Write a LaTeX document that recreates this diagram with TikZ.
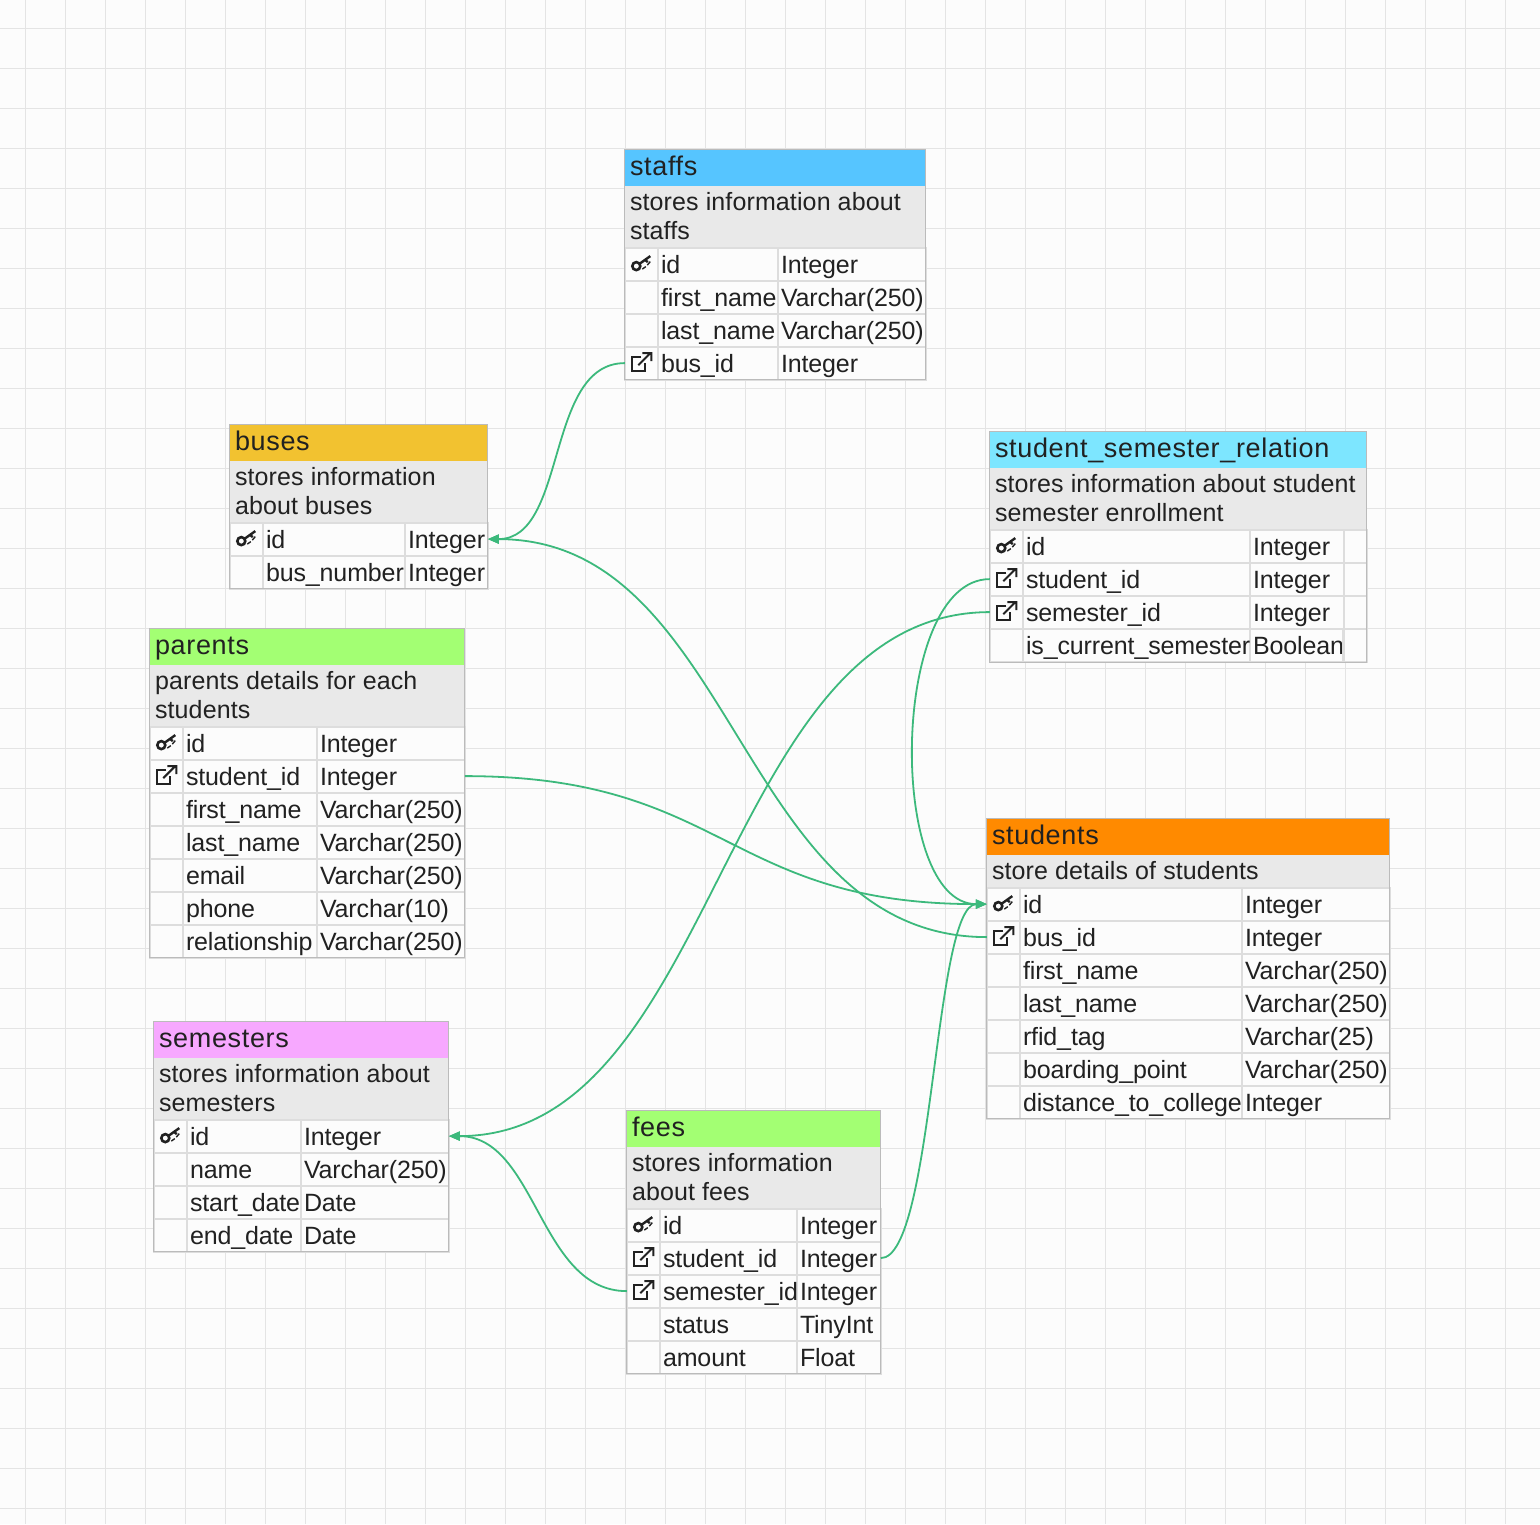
\documentclass[tikz,border=0pt]{standalone}
\usepackage{fontspec}
\setmainfont{Liberation Sans}
\newfontfamily\titlefam[LetterSpace=2.5]{Liberation Sans}
\newfontfamily\descfam[LetterSpace=0.5]{Liberation Sans}
\newfontfamily\cellfam[LetterSpace=-0.5]{Liberation Sans}
\usetikzlibrary{arrows.meta}
\definecolor{bgc}{HTML}{FCFCFC}
\definecolor{gridc}{HTML}{E4E4E4}
\definecolor{descc}{HTML}{E9E9E9}
\definecolor{linec}{HTML}{DDDDDD}
\definecolor{edgec}{HTML}{BBBBBB}
\definecolor{inkc}{HTML}{212121}
\definecolor{wirec}{HTML}{3CB97C}
\definecolor{cstaffs}{HTML}{56C5FF}
\definecolor{cbuses}{HTML}{F2C230}
\definecolor{cgreen}{HTML}{A3FF73}
\definecolor{csem}{HTML}{F7A8FF}
\definecolor{cstud}{HTML}{FF8A00}
\definecolor{cssr}{HTML}{7DE6FF}
\tikzset{
  titlefont/.style={font=\titlefam\fontsize{27}{27}\selectfont,text=inkc,inner sep=0pt,anchor=base west},
  desctext/.style={font=\descfam\fontsize{25}{25}\selectfont,text=inkc,inner sep=0pt,anchor=base west},
  celltext/.style={font=\cellfam\fontsize{25}{25}\selectfont,text=inkc,inner sep=0pt,anchor=base west},
  hdrbox/.style={draw=none,inner sep=0pt,outer sep=0pt,anchor=north west,minimum height=36pt},
  descbox/.style={fill=descc,draw=none,inner sep=0pt,outer sep=0pt,anchor=north west},
  rowbox/.style={draw=linec,line width=2pt,fill=bgc,inner sep=0pt,outer sep=0pt,anchor=north west,minimum height=33pt},
  framebox/.style={draw=edgec,line width=1pt},
  cellrule/.style={draw=linec,line width=2.5pt},
  wire/.style={draw=wirec,line width=1.8pt},
  wirearrow/.style={wire,-{Triangle[length=11pt,width=9pt]}},
  keyic/.pic={
    \draw[inkc,line width=2.6pt] (-5,2) circle (4);
    \draw[inkc,line width=2.4pt] (-1.5,-0.5) -- (9,-8) (4,-4) -- (6.5,-2);
    \draw[inkc,line width=1.4pt] (1,5) -- (4.5,2.5) (6,1) -- (9,-2.5);
  },
  linkic/.pic={
    \draw[inkc,line width=2pt] (0,-6) -- (-9.5,-6) -- (-9.5,8) -- (4,8) -- (4,0);
    \draw[inkc,line width=2pt] (-3,2) -- (9,-10) (1,-10) -- (10,-10) -- (10,-2);
  }
}
% id, x0, x1, x2, x3, ytop, name, type
\newcommand{\dbrow}[8]{%
  \pgfmathsetmacro{\boxw}{#5-#2}%
  \node[rowbox,minimum width=\boxw pt] (#1) at (#2,#6) {};
  \draw[cellrule] (#3,#6) -- (#3,#6+33);
  \draw[cellrule] (#4,#6) -- (#4,#6+33);
  \node[celltext] (#1-name) at (#3+3,#6+26) {#7};
  \node[celltext] (#1-type) at (#4+3,#6+26) {#8};
}
% id, x0, x3, ytop, colour, title
\newcommand{\dbhead}[6]{%
  \pgfmathsetmacro{\boxw}{#3-#2}%
  \node[hdrbox,fill=#5,minimum width=\boxw pt] (#1) at (#2,#4) {};
  \node[titlefont] (#1-title) at (#2+5,#4+26) {#6};
}
% id, x0, x3, ytop, height
\newcommand{\dbdesc}[5]{%
  \pgfmathsetmacro{\boxw}{#3-#2}%
  \node[descbox,minimum width=\boxw pt,minimum height=#5 pt] (#1) at (#2,#4) {};
}
\begin{document}
\begin{tikzpicture}[x=1pt,y=-1pt]
\useasboundingbox (0,0) rectangle (1540,1524);
\fill[bgc] (0,0) rectangle (1540,1524);
\foreach \g in {0,...,37} \draw[gridc,line width=1.4pt] (25.5+40*\g,0) -- (25.5+40*\g,1524);
\foreach \g in {0,...,37} \draw[gridc,line width=1pt] (0,28+40*\g) -- (1540,28+40*\g);

\begin{scope}[shift={(-0.2,-0.4)}]
% staffs
\dbhead{staffs}{625}{926}{150}{cstaffs}{staffs}
\dbdesc{staffs-d}{625}{926}{186}{62}
\node[desctext] (staffs-d1) at (630,211) {stores information about};
\node[desctext] (staffs-d2) at (630,240) {staffs};
\dbrow{staffs-id}{625}{658}{778}{926}{248}{id}{Integer}
\dbrow{staffs-fn}{625}{658}{778}{926}{281}{first\_name}{Varchar(250)}
\dbrow{staffs-ln}{625}{658}{778}{926}{314}{last\_name}{Varchar(250)}
\dbrow{staffs-bus}{625}{658}{778}{926}{347}{bus\_id}{Integer}
\draw[framebox] (625,150) rectangle (926,380);
\pic at (641.5,264.5) {keyic};
\pic at (641.5,363.5) {linkic};

% buses
\dbhead{buses}{230}{488}{425}{cbuses}{buses}
\dbdesc{buses-d}{230}{488}{461}{62}
\node[desctext] (buses-d1) at (235,486) {stores information};
\node[desctext] (buses-d2) at (235,515) {about buses};
\dbrow{buses-id}{230}{263}{405}{488}{523}{id}{Integer}
\dbrow{buses-num}{230}{263}{405}{488}{556}{bus\_number}{Integer}
\draw[framebox] (230,425) rectangle (488,589);
\pic at (246.5,539.5) {keyic};

% parents
\dbhead{parents}{150}{465}{629}{cgreen}{parents}
\dbdesc{parents-d}{150}{465}{665}{62}
\node[desctext] (parents-d1) at (155,690) {parents details for each};
\node[desctext] (parents-d2) at (155,719) {students};
\dbrow{parents-id}{150}{183}{317}{465}{727}{id}{Integer}
\dbrow{parents-sid}{150}{183}{317}{465}{760}{student\_id}{Integer}
\dbrow{parents-fn}{150}{183}{317}{465}{793}{first\_name}{Varchar(250)}
\dbrow{parents-ln}{150}{183}{317}{465}{826}{last\_name}{Varchar(250)}
\dbrow{parents-em}{150}{183}{317}{465}{859}{email}{Varchar(250)}
\dbrow{parents-ph}{150}{183}{317}{465}{892}{phone}{Varchar(10)}
\dbrow{parents-rel}{150}{183}{317}{465}{925}{relationship}{Varchar(250)}
\draw[framebox] (150,629) rectangle (465,958);
\pic at (166.5,743.5) {keyic};
\pic at (166.5,776.5) {linkic};

% semesters
\dbhead{semesters}{154}{449}{1022}{csem}{semesters}
\dbdesc{semesters-d}{154}{449}{1058}{62}
\node[desctext] (semesters-d1) at (159,1083) {stores information about};
\node[desctext] (semesters-d2) at (159,1112) {semesters};
\dbrow{semesters-id}{154}{187}{301}{449}{1120}{id}{Integer}
\dbrow{semesters-nm}{154}{187}{301}{449}{1153}{name}{Varchar(250)}
\dbrow{semesters-st}{154}{187}{301}{449}{1186}{start\_date}{Date}
\dbrow{semesters-en}{154}{187}{301}{449}{1219}{end\_date}{Date}
\draw[framebox] (154,1022) rectangle (449,1252);
\pic at (170.5,1136.5) {keyic};

% fees
\dbhead{fees}{627}{881}{1111}{cgreen}{fees}
\dbdesc{fees-d}{627}{881}{1147}{62}
\node[desctext] (fees-d1) at (632,1172) {stores information};
\node[desctext] (fees-d2) at (632,1201) {about fees};
\dbrow{fees-id}{627}{660}{797}{881}{1209}{id}{Integer}
\dbrow{fees-sid}{627}{660}{797}{881}{1242}{student\_id}{Integer}
\dbrow{fees-sem}{627}{660}{797}{881}{1275}{semester\_id}{Integer}
\dbrow{fees-st}{627}{660}{797}{881}{1308}{status}{TinyInt}
\dbrow{fees-am}{627}{660}{797}{881}{1341}{amount}{Float}
\draw[framebox] (627,1111) rectangle (881,1374);
\pic at (643.5,1225.5) {keyic};
\pic at (643.5,1258.5) {linkic};
\pic at (643.5,1291.5) {linkic};

% students
\dbhead{students}{987}{1390}{819}{cstud}{students}
\dbdesc{students-d}{987}{1390}{855}{33}
\node[desctext] (students-d1) at (992,880) {store details of students};
\dbrow{students-id}{987}{1020}{1242}{1390}{888}{id}{Integer}
\dbrow{students-bus}{987}{1020}{1242}{1390}{921}{bus\_id}{Integer}
\dbrow{students-fn}{987}{1020}{1242}{1390}{954}{first\_name}{Varchar(250)}
\dbrow{students-ln}{987}{1020}{1242}{1390}{987}{last\_name}{Varchar(250)}
\dbrow{students-rf}{987}{1020}{1242}{1390}{1020}{rfid\_tag}{Varchar(25)}
\dbrow{students-bp}{987}{1020}{1242}{1390}{1053}{boarding\_point}{Varchar(250)}
\dbrow{students-dc}{987}{1020}{1242}{1390}{1086}{distance\_to\_college}{Integer}
\draw[framebox] (987,819) rectangle (1390,1119);
\pic at (1003.5,904.5) {keyic};
\pic at (1003.5,937.5) {linkic};

% student_semester_relation
\dbhead{ssr}{990}{1367}{432}{cssr}{student\_semester\_relation}
\dbdesc{ssr-d}{990}{1367}{468}{62}
\node[desctext] (ssr-d1) at (995,493) {stores information about student};
\node[desctext] (ssr-d2) at (995,522) {semester enrollment};
\dbrow{ssr-id}{990}{1023}{1250}{1367}{530}{id}{Integer}
\dbrow{ssr-sid}{990}{1023}{1250}{1367}{563}{student\_id}{Integer}
\dbrow{ssr-sem}{990}{1023}{1250}{1367}{596}{semester\_id}{Integer}
\dbrow{ssr-cur}{990}{1023}{1250}{1367}{629}{is\_current\_semester}{Boolean}
\draw[cellrule] (1344,530) -- (1344,629);
\draw[cellrule] (1343.5,629) -- (1343.5,662);
\draw[framebox] (990,432) rectangle (1367,663);
\pic at (1006.5,546.5) {keyic};
\pic at (1006.5,579.5) {linkic};
\pic at (1006.5,612.5) {linkic};

% connectors
\draw[wirearrow] (staffs-bus.west) .. controls +(-80,0) and +(80,0) .. (buses-id.east);
\draw[wirearrow] (students-bus.west) .. controls +(-249,0) and +(249,0) .. (buses-id.east);
\draw[wirearrow] (parents-sid.east) .. controls +(261,0) and +(-261,0) .. (students-id.west);
\draw[wirearrow] (ssr-sid.west) .. controls +(-100,0) and +(-100,0) .. (students-id.west);
\draw[wirearrow] (ssr-sem.west) .. controls +(-270,0) and +(270,0) .. (semesters-id.east);
\draw[wirearrow] (fees-sem.west) .. controls +(-88,0) and +(88,0) .. (semesters-id.east);
\draw[wirearrow] (fees-sid.east) .. controls +(53,0) and +(-53,0) .. (students-id.west);
\end{scope}
\end{tikzpicture}
\end{document}
